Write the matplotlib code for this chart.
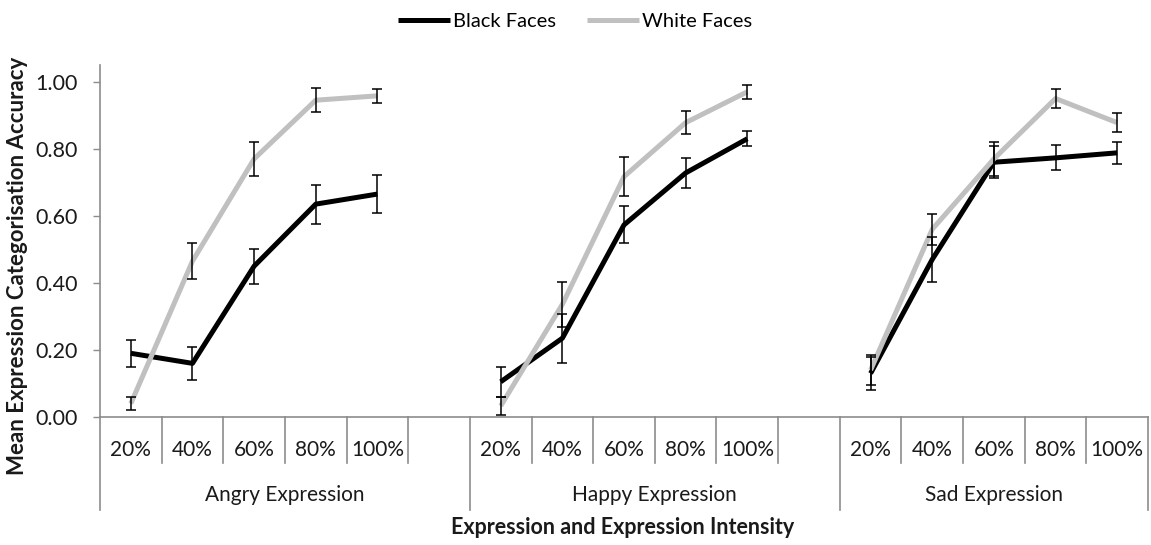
import numpy as np
import matplotlib
matplotlib.use("Agg")
import matplotlib.pyplot as plt
import matplotlib.transforms as mtransforms

plt.rcParams['font.family'] = ['Lato', 'DejaVu Sans']

# data
intensities = ['20%', '40%', '60%', '80%', '100%']
groups = ['Angry Expression', 'Happy Expression', 'Sad Expression']

black_angry = [0.19, 0.16, 0.45, 0.635, 0.665]
black_angry_se = [0.04, 0.05, 0.052, 0.058, 0.057]
white_angry = [0.04, 0.465, 0.77, 0.945, 0.958]
white_angry_se = [0.02, 0.053, 0.05, 0.035, 0.02]

black_happy = [0.105, 0.235, 0.573, 0.728, 0.83]
black_happy_se = [0.045, 0.073, 0.055, 0.045, 0.022]
white_happy = [0.033, 0.336, 0.717, 0.878, 0.97]
white_happy_se = [0.028, 0.067, 0.058, 0.035, 0.02]

black_sad = [0.13, 0.47, 0.76, 0.773, 0.788]
black_sad_se = [0.05, 0.068, 0.047, 0.037, 0.033]
white_sad = [0.14, 0.56, 0.77, 0.95, 0.878]
white_sad_se = [0.045, 0.046, 0.05, 0.027, 0.028]

# 5 categories + one blank slot between groups
gap = [np.nan]
black = np.array(black_angry + gap + black_happy + gap + black_sad)
black_se = np.array(black_angry_se + gap + black_happy_se + gap + black_sad_se)
white = np.array(white_angry + gap + white_happy + gap + white_sad)
white_se = np.array(white_angry_se + gap + white_happy_se + gap + white_sad_se)
labels = intensities + [''] + intensities + [''] + intensities
n = len(labels)
x = np.arange(n) + 0.5

fig = plt.figure(figsize=(11.51, 5.45), dpi=100)
ax = fig.add_axes([100/1151, 128/545, 1048/1151, 352/545])

ax.plot(x, black, color='black', lw=3.6, label='Black Faces', zorder=3, solid_capstyle='butt')
ax.plot(x, white, color='#c0c0c0', lw=3.6, label='White Faces', zorder=4, solid_capstyle='butt')
ax.errorbar(x, black, yerr=black_se, fmt='none', ecolor='black', elinewidth=1.1,
            capsize=3.5, capthick=1.1, zorder=5)
ax.errorbar(x, white, yerr=white_se, fmt='none', ecolor='black', elinewidth=1.1,
            capsize=3.5, capthick=1.1, zorder=5)

ax.set_xlim(0, n)
ax.set_ylim(0, 1.05)
ax.set_yticks(np.arange(0, 1.01, 0.2))
ax.set_yticklabels(['%.2f' % v for v in np.arange(0, 1.01, 0.2)])
ax.tick_params(axis='y', length=5, width=1, color='#8c8c8c', pad=11, labelsize=15.5, labelcolor='#1a1a1a')
ax.set_xticks([])
for s in ['top', 'right']:
    ax.spines[s].set_visible(False)
ax.spines['left'].set_color('#8c8c8c')
ax.spines['bottom'].set_color('#8c8c8c')
ax.spines['left'].set_linewidth(1.2)
ax.spines['bottom'].set_linewidth(1.2)

# multi-level category axis
trans = mtransforms.blended_transform_factory(ax.transData, ax.transAxes)
group_edges = [0, 6, 12, 17]
for b in range(n + 1):
    y0 = -0.264 if b in group_edges else -0.1307
    ax.plot([b, b], [0, y0], color='#8c8c8c', lw=1.2, transform=trans, clip_on=False)
for xi, lab in zip(x, labels):
    ax.text(xi, -0.094, lab, transform=trans, ha='center', va='center', fontsize=15, color='#1a1a1a')
for g, name in enumerate(groups):
    cx = (group_edges[g] + group_edges[g + 1] - (1 if g < 2 else 0)) / 2 + (0.5 if g < 2 else 0)
    ax.text(cx, -0.222, name, transform=trans, ha='center', va='center', fontsize=15, color='#1a1a1a')

fig.text(623/1151, (545 - 527)/545, 'Expression and Expression Intensity', ha='center', va='center',
         fontsize=15.5, fontweight='bold', color='#1a1a1a')
fig.text(18/1151, (545 - 266)/545, 'Mean Expression Categorisation Accuracy', rotation=90,
         ha='center', va='center', fontsize=16, fontweight='bold', color='#1a1a1a')

fig.legend(loc='upper center', bbox_to_anchor=(575/1151, 1.01), ncol=2, frameon=False,
           fontsize=14.5, handlelength=2.6, handletextpad=0.15, columnspacing=1.5)

fig.savefig('out.png', dpi=100)
